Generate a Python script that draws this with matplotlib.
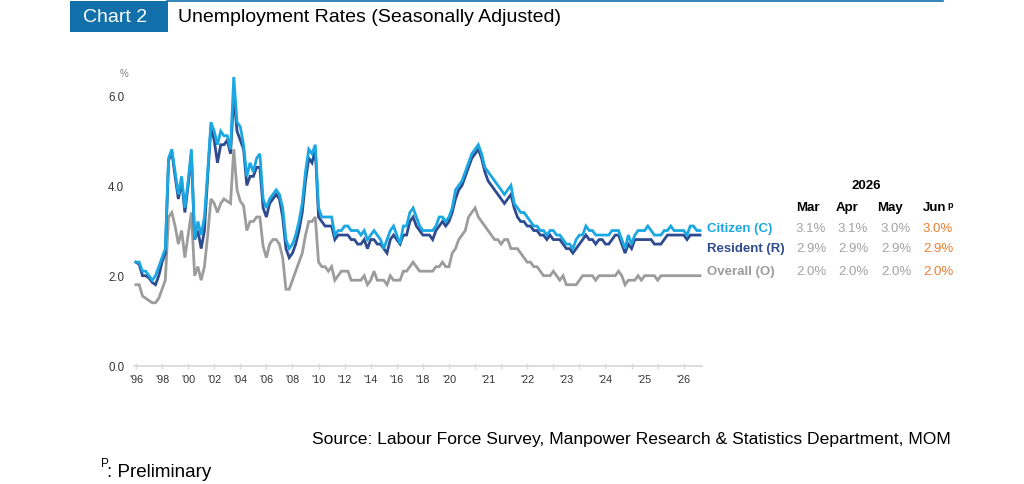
import numpy as np
import matplotlib
matplotlib.use("Agg")
import matplotlib.pyplot as plt
from matplotlib.patches import Rectangle
from matplotlib.lines import Line2D
import matplotlib.transforms as mtransforms

plt.rcParams['font.family'] = ['Liberation Sans', 'DejaVu Sans']

# ---------------- data ----------------
# Quarterly 1996Q1 .. 2019Q4
citizen_q = [2.3, 2.3, 2.1, 2.1,  2.0, 1.9, 2.0, 2.2,  2.4, 2.6, 4.6, 4.8,
             4.3, 3.8, 4.2, 3.5,  4.1, 4.8, 2.8, 3.2,  2.9, 3.3, 4.3, 5.4,
             5.2, 4.9, 5.2, 5.1,  5.1, 4.8, 6.4, 5.4,  5.3, 4.9, 4.2, 4.5,
             4.3, 4.6, 4.7, 3.7,  3.5, 3.7, 3.8, 3.9,  3.8, 3.5, 2.8, 2.6,
             2.7, 2.9, 3.2, 3.6,  4.3, 4.8, 4.7, 4.9,  3.5, 3.3, 3.3, 3.3,
             3.3, 2.9, 3.0, 3.0,  3.1, 3.1, 3.0, 3.0,  3.0, 2.9, 3.0, 2.8,
             2.9, 3.0, 2.9, 2.8,  2.6, 2.8, 3.0, 3.1,  2.9, 2.7, 3.1, 3.1,
             3.4, 3.5, 3.3, 3.1,  3.0, 3.0, 3.0, 3.0,  3.1, 3.3, 3.3, 3.2]
resident_q = [2.3, 2.25, 2.0, 2.0, 1.95, 1.85, 1.8, 2.0, 2.3, 2.5, 4.55, 4.75,
              4.2, 3.7, 4.1, 3.4,  4.0, 4.7, 2.8, 3.0,  2.6, 3.0, 4.2, 5.3,
              5.0, 4.5, 4.9, 4.9,  5.0, 4.7, 6.0, 5.2,  5.0, 4.8, 4.0, 4.2,
              4.2, 4.4, 4.4, 3.5,  3.3, 3.6, 3.7, 3.8,  3.7, 3.3, 2.6, 2.4,
              2.5, 2.7, 3.0, 3.4,  4.1, 4.6, 4.5, 4.8,  3.3, 3.2, 3.1, 3.1,
              3.1, 2.8, 2.9, 2.9,  2.9, 2.9, 2.8, 2.8,  2.7, 2.7, 2.8, 2.6,
              2.8, 2.8, 2.7, 2.7,  2.6, 2.5, 2.8, 2.9,  2.8, 2.7, 2.9, 2.9,
              3.2, 3.3, 3.1, 3.0,  2.9, 2.9, 2.9, 2.8,  3.0, 3.1, 3.2, 3.1]
overall_q = [1.8, 1.8, 1.55, 1.5, 1.45, 1.4, 1.4, 1.5,  1.7, 1.9, 3.3, 3.4,
             3.1, 2.7, 3.0, 2.4,  2.9, 3.4, 2.0, 2.2,  1.9, 2.2, 2.9, 3.7,
             3.6, 3.4, 3.6, 3.7,  3.65, 3.6, 4.8, 3.9, 3.65, 3.55, 3.0, 3.2,
             3.2, 3.3, 3.3, 2.65, 2.4, 2.7, 2.8, 2.8,  2.7, 2.4, 1.7, 1.7,
             1.9, 2.1, 2.3, 2.5,  2.9, 3.2, 3.2, 3.3,  2.3, 2.2, 2.2, 2.1,
             2.2, 1.9, 2.0, 2.1,  2.1, 2.1, 1.9, 1.9,  1.9, 1.9, 2.0, 1.8,
             1.9, 2.1, 1.9, 1.9,  1.9, 1.8, 2.0, 1.9,  1.9, 1.9, 2.1, 2.1,
             2.2, 2.3, 2.2, 2.1,  2.1, 2.1, 2.1, 2.1,  2.2, 2.2, 2.3, 2.2]

# Monthly Jan 2020 .. Jun 2026
citizen_m = [3.3, 3.5, 3.9, 4.0, 4.1, 4.3, 4.5, 4.7, 4.8, 4.9, 4.7, 4.4,
             4.3, 4.2, 4.1, 4.0, 3.9, 3.8, 3.9, 4.0, 3.6, 3.5, 3.4, 3.4,
             3.3, 3.2, 3.1, 3.1, 3.0, 3.0, 2.9, 3.0, 3.0, 2.9, 2.9, 2.8,
             2.7, 2.7, 2.6, 2.8, 2.9, 2.9, 3.1, 3.0, 3.0, 2.9, 2.9, 2.9,
             2.9, 2.9, 3.0, 3.0, 3.0, 2.8, 2.6, 2.9, 2.7, 2.9, 3.0, 3.0,
             3.0, 3.1, 3.0, 2.9, 2.9, 2.9, 3.0, 3.0, 3.1, 3.0, 3.0, 3.0,
             3.0, 2.9, 3.1, 3.1, 3.0, 3.0]
resident_m = [3.2, 3.4, 3.7, 3.9, 4.0, 4.2, 4.4, 4.6, 4.7, 4.8, 4.6, 4.3,
              4.1, 4.0, 3.9, 3.8, 3.7, 3.6, 3.7, 3.8, 3.5, 3.3, 3.2, 3.2,
              3.1, 3.1, 3.0, 3.0, 2.9, 2.9, 2.8, 2.9, 2.8, 2.8, 2.8, 2.7,
              2.6, 2.6, 2.5, 2.6, 2.7, 2.8, 2.9, 2.8, 2.8, 2.7, 2.8, 2.8,
              2.7, 2.7, 2.8, 2.9, 2.9, 2.7, 2.5, 2.7, 2.6, 2.8, 2.8, 2.8,
              2.8, 2.8, 2.8, 2.7, 2.7, 2.7, 2.8, 2.9, 2.9, 2.9, 2.9, 2.9,
              2.9, 2.8, 2.9, 2.9, 2.9, 2.9]
overall_m = [2.2, 2.5, 2.6, 2.8, 2.9, 3.0, 3.3, 3.4, 3.5, 3.3, 3.2, 3.1,
             3.0, 2.9, 2.8, 2.8, 2.7, 2.8, 2.8, 2.6, 2.6, 2.6, 2.5, 2.4,
             2.3, 2.3, 2.2, 2.2, 2.1, 2.0, 2.0, 2.0, 2.1, 2.0, 1.9, 2.0,
             1.8, 1.8, 1.8, 1.8, 1.9, 2.0, 2.0, 2.0, 2.0, 1.9, 2.0, 2.0,
             2.0, 2.0, 2.0, 2.0, 2.1, 2.0, 1.8, 1.9, 1.9, 1.9, 2.0, 1.9,
             2.0, 2.0, 2.0, 2.0, 1.9, 2.0, 2.0, 2.0, 2.0, 2.0, 2.0, 2.0,
             2.0, 2.0, 2.0, 2.0, 2.0, 2.0]

tick_labels = ["'96", "'98", "'00", "'02", "'04", "'06", "'08", "'10", "'12",
               "'14", "'16", "'18", "'20", "'21", "'22", "'23", "'24", "'25", "'26"]
tick_label_pos = [0, 8, 16, 24, 32, 40, 48, 56, 64, 72, 80, 88, 96,
                  108, 120, 132, 144, 156, 168]

table_months = ["Mar", "Apr", "May", "Jun"]
table_year = "2026"
row_names = ["Citizen (C)", "Resident (R)", "Overall (O)"]
table_values = [["3.1%", "3.1%", "3.0%", "3.0%"],
                ["2.9%", "2.9%", "2.9%", "2.9%"],
                ["2.0%", "2.0%", "2.0%", "2.0%"]]

citizen = citizen_q + citizen_m
resident = resident_q + resident_m
overall = overall_q + overall_m

# ---------------- style ----------------
C_CIT = '#1AA7E2'
C_RES = '#2E4B8F'
C_OVR = '#9C9C9C'
C_ORANGE = '#EE7D31'
C_GRAYTXT = '#A3A3A3'
C_BLUEBOX = '#1170AA'

W, H = 1024, 485
fig = plt.figure(figsize=(W / 100, H / 100), dpi=100)

def fx(px):
    return px / W

def fy(py):
    return 1 - py / H

ax = fig.add_axes([fx(134), fy(367), fx(702) - fx(134), (367 - 69) / H])
x = np.arange(len(citizen))
ax.plot(x, overall, color=C_OVR, lw=2.0, solid_joinstyle='miter', zorder=2)
ax.plot(x, resident, color=C_RES, lw=2.0, solid_joinstyle='miter', zorder=3)
ax.plot(x, citizen, color=C_CIT, lw=2.0, solid_joinstyle='miter', zorder=4)

ax.set_xlim(-0.6, 173.6)
ax.set_ylim(0, 6.6)
for s in ['top', 'right', 'left']:
    ax.spines[s].set_visible(False)
ax.spines['bottom'].set_color('#D9D9D9')
ax.spines['bottom'].set_linewidth(1.3)

ax.set_xticks(np.arange(0, 169, 8))
ax.set_xticklabels([])
ax.tick_params(axis='x', direction='inout', length=4, width=1, color='#D9D9D9')
ax.set_yticks([0, 2, 4, 6])
ax.set_yticklabels(['0.0', '2.0', '4.0', '6.0'], fontsize=8.3, color='#333333')
ax.tick_params(axis='y', length=0, pad=7)

trans = mtransforms.blended_transform_factory(ax.transData, ax.transAxes)
for pos, lab in zip(tick_label_pos, tick_labels):
    ax.text(pos, -13 / 298, lab, transform=trans, ha='center', va='center',
            fontsize=7.8, color='#333333')

fig.text(fx(124), fy(74), '%', ha='center', va='center', fontsize=7, color='#7F7F7F')

# ---------------- header ----------------
fig.patches.append(Rectangle((fx(70), fy(33)), fx(168) - fx(70), (33 - 2) / H,
                             transform=fig.transFigure, facecolor=C_BLUEBOX,
                             edgecolor='none'))
fig.add_artist(Line2D([fx(167), fx(943)], [fy(2), fy(2)], transform=fig.transFigure,
                      color=C_BLUEBOX, lw=1.2))
fig.text(fx(83), fy(17), 'Chart 2', ha='left', va='center', fontsize=14, color='white')
fig.text(fx(178), fy(17), 'Unemployment Rates (Seasonally Adjusted)', ha='left',
         va='center', fontsize=14, color='black')

# ---------------- table ----------------
row_y = [229, 249, 272]
row_colors = [C_CIT, C_RES, C_OVR]
col_x = [811, 853, 896, 938]
head_x = [808, 847, 890]
fig.text(fx(866), fy(186), table_year, ha='center', va='center', fontsize=9.5,
         fontweight='bold', color='black')
for i, m in enumerate(table_months[:3]):
    fig.text(fx(head_x[i]), fy(208), m, ha='center', va='center', fontsize=9.5,
             fontweight='bold', color='black')
fig.text(fx(923), fy(208), table_months[3], ha='left', va='center', fontsize=9.5,
         fontweight='bold', color='black')
fig.text(fx(947), fy(205), 'p', ha='left', va='center', fontsize=6.5,
         fontweight='bold', color='black')
for r in range(3):
    fig.text(fx(707), fy(row_y[r]), row_names[r], ha='left', va='center',
             fontsize=9.5, fontweight='bold', color=row_colors[r])
    for c in range(4):
        fig.text(fx(col_x[c]), fy(row_y[r]), table_values[r][c], ha='center',
                 va='center', fontsize=9.5,
                 color=C_ORANGE if c == 3 else C_GRAYTXT)

# ---------------- footer ----------------
fig.text(fx(951), fy(440), 'Source: Labour Force Survey, Manpower Research & Statistics Department, MOM',
         ha='right', va='center', fontsize=12.6, color='black')
fig.text(fx(101), fy(464), 'P', ha='left', va='center', fontsize=8.5, color='black')
fig.text(fx(107), fy(473), ': Preliminary', ha='left', va='center', fontsize=13.5, color='black')

fig.savefig('out.png', dpi=100)
